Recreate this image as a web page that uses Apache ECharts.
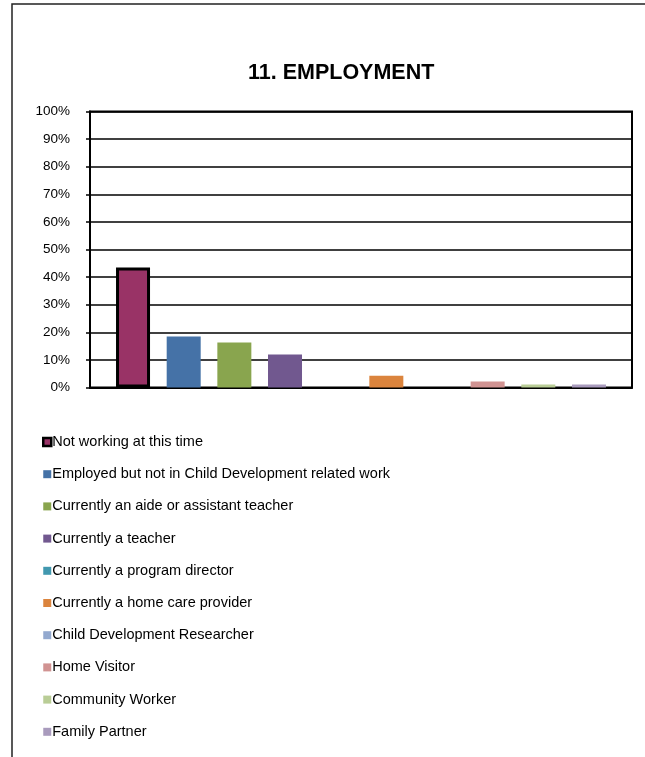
<!DOCTYPE html>
<html>
<head>
<meta charset="utf-8">
<script src="https://cdn.jsdelivr.net/npm/echarts@6/dist/echarts.min.js"></script>
<style>
  html, body { margin: 0; padding: 0; background: #fff; }
  #chart { width: 645px; height: 757px; }
</style>
</head>
<body>
<div id="chart"></div>
<script>
// Employment status of respondents (percent of total)
const titleText = '11. EMPLOYMENT';
const categories = ['Employment'];
const seriesNames = [
  'Not working at this time',
  'Employed but not in Child Development related work',
  'Currently an aide or assistant teacher',
  'Currently a teacher',
  'Currently a program director',
  'Currently a home care provider',
  'Child Development Researcher',
  'Home Visitor',
  'Community Worker',
  'Family Partner'
];
const seriesValues = [43.5, 18.5, 16.3, 12.0, 0, 4.3, 0, 2.2, 1.1, 1.1];
const seriesColors = [
  '#993366', '#4572A7', '#89A54E', '#71588F', '#4198AF',
  '#DB843D', '#93A9CF', '#D19392', '#B9CD96', '#A99BBD'
];
const yTicks = { min: 0, max: 100, step: 10 };

const FONT = 'Arial, "Liberation Sans", sans-serif';

const series = seriesNames.map((name, i) => ({
  name: name,
  type: 'bar',
  data: [seriesValues[i]],
  barWidth: 34,
  barGap: '49%',
  itemStyle: i === 0
    ? { color: seriesColors[i], borderColor: '#000', borderWidth: 3 }
    : { color: seriesColors[i] },
  emphasis: { disabled: true }
}));

// the outlined series keeps a heavier outline in its legend swatch too
const legendData = seriesNames.map((name, i) => i === 0
  ? { name: name, itemStyle: { borderColor: '#000', borderWidth: 2.5 } }
  : { name: name });

const chart = echarts.init(document.getElementById('chart'), null, { renderer: 'canvas' });
chart.setOption({
  animation: false,
  backgroundColor: '#fff',
  title: {
    text: titleText,
    left: 243,
    top: 57,
    textStyle: { fontFamily: FONT, fontSize: 21.5, fontWeight: 'bold', color: '#000' }
  },
  graphic: [{
    type: 'rect',
    shape: { x: 12, y: 4, width: 700, height: 800 },
    style: { fill: 'none', stroke: '#222', lineWidth: 1.5 },
    silent: true
  }],
  grid: {
    left: 90, right: 13, top: 111.5, bottom: 369.5,
    show: true, borderColor: '#000', borderWidth: 2, backgroundColor: 'transparent'
  },
  xAxis: {
    type: 'category',
    data: categories,
    axisLine: { lineStyle: { color: '#000', width: 2 } },
    axisTick: { show: false },
    axisLabel: { show: false }
  },
  yAxis: {
    type: 'value',
    min: yTicks.min,
    max: yTicks.max,
    interval: yTicks.step,
    axisLine: { show: true, lineStyle: { color: '#000', width: 2 } },
    axisTick: { show: true, length: 4, lineStyle: { color: '#000', width: 1.5 } },
    axisLabel: {
      formatter: '{value}%',
      fontFamily: FONT, fontSize: 13.5, color: '#000', margin: 20
    },
    splitLine: { show: true, lineStyle: { color: '#000', width: 1.5 } }
  },
  legend: {
    orient: 'vertical',
    left: 37,
    top: 429,
    itemWidth: 8,
    itemHeight: 8,
    itemGap: 16.2,
    icon: 'rect',
    selectedMode: false,
    data: legendData,
    textStyle: {
      fontFamily: FONT, fontSize: 14.5, color: '#000', lineHeight: 16,
      padding: [0, 0, 0, -4]
    }
  },
  series: series
});
</script>
</body>
</html>
